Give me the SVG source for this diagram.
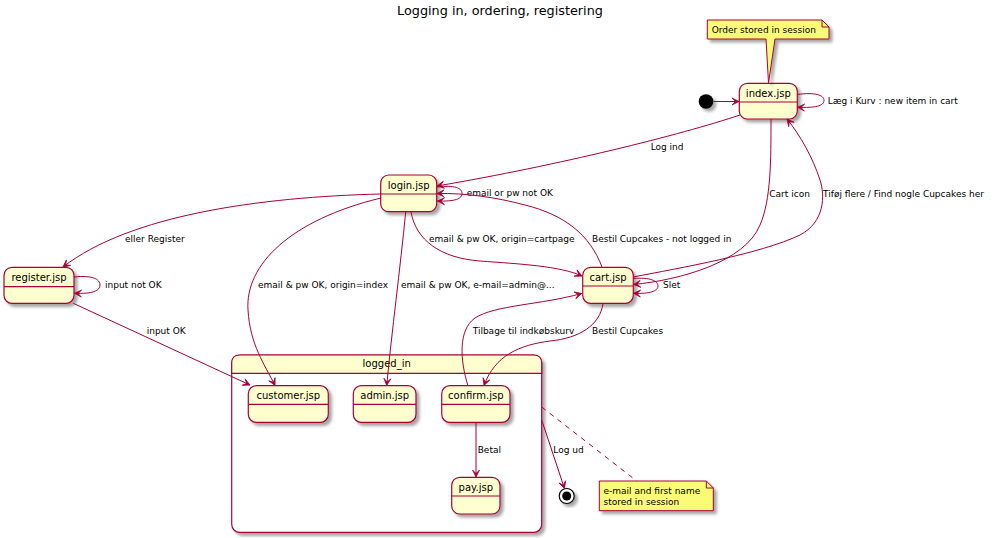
<svg xmlns="http://www.w3.org/2000/svg" width="993" height="538" viewBox="0 0 993 538">
<style>
  .st { fill: #FEFECE; stroke: #A80036; stroke-width: 1.2; filter: url(#sh); }
  .hl { stroke: #A80036; stroke-width: 1.2; fill: none; }
  .nm { font-family: "DejaVu Sans", sans-serif; font-size: 10px; fill: #000; text-anchor: middle; }
  .lb { font-family: "DejaVu Sans", sans-serif; font-size: 9px; fill: #000; }
  .ed { fill: none; stroke: #A80036; stroke-width: 1; marker-end: url(#ah); }
  .note { fill: #FBFB77; stroke: #A80036; stroke-width: 1; filter: url(#sh); }
  .fold { fill: none; stroke: #A80036; stroke-width: 1; }
  .title { font-family: "DejaVu Sans", sans-serif; font-size: 12.8px; fill: #000; text-anchor: middle; }
</style>
<defs>
  <filter id="sh" x="-20%" y="-20%" width="150%" height="150%">
    <feGaussianBlur in="SourceAlpha" stdDeviation="1.5"/>
    <feOffset dx="3" dy="3" result="b"/>
    <feFlood flood-color="#000" flood-opacity="0.35"/>
    <feComposite in2="b" operator="in" result="s"/>
    <feMerge><feMergeNode in="s"/><feMergeNode in="SourceGraphic"/></feMerge>
  </filter>
  <marker id="ah" viewBox="-8 -5 9 10" refX="0" refY="0" markerWidth="9" markerHeight="10" markerUnits="userSpaceOnUse" orient="auto">
    <path d="M0,0 L-7,-3.5 L-3.5,0 L-7,3.5 Z" fill="#A80036" stroke="#A80036" stroke-width="0.8" stroke-linejoin="miter"/>
  </marker>
</defs>
<rect width="993" height="538" fill="#fff"/>
<text class="title" x="500" y="14.5">Logging in, ordering, registering</text>

<g id="logged_in">
  <rect x="231.7" y="355" width="310" height="177.3" rx="8" ry="8" fill="#fff" stroke="#A80036" stroke-width="1.2" filter="url(#sh)"/>
  <path d="M231.7,373.3 L231.7,363 Q231.7,355 239.7,355 L533.7,355 Q541.7,355 541.7,363 L541.7,373.3 Z" fill="#FEFECE" stroke="#A80036" stroke-width="1.2"/>
  <text class="nm" x="386.7" y="367">logged_in</text>
</g>
<g id="customer">
  <rect class="st" x="248.3" y="385.7" width="80" height="36.6" rx="8" ry="8"/>
  <line class="hl" x1="248.3" y1="404.3" x2="328.3" y2="404.3"/>
  <text class="nm" x="288.3" y="399">customer.jsp</text>
</g>
<g id="admin">
  <rect class="st" x="353.3" y="385.7" width="62.7" height="36.6" rx="8" ry="8"/>
  <line class="hl" x1="353.3" y1="404.3" x2="416" y2="404.3"/>
  <text class="nm" x="384.7" y="399">admin.jsp</text>
</g>
<g id="confirm">
  <rect class="st" x="441.7" y="385.7" width="68.3" height="36.6" rx="8" ry="8"/>
  <line class="hl" x1="441.7" y1="404.3" x2="510" y2="404.3"/>
  <text class="nm" x="475.8" y="399">confirm.jsp</text>
</g>
<g id="pay">
  <rect class="st" x="451.7" y="477.3" width="48.3" height="36.7" rx="8" ry="8"/>
  <line class="hl" x1="451.7" y1="496" x2="500" y2="496"/>
  <text class="nm" x="475.8" y="491">pay.jsp</text>
</g>
<g id="index">
  <rect class="st" x="739.3" y="83.3" width="58" height="35.7" rx="8" ry="8"/>
  <line class="hl" x1="739.3" y1="102" x2="797.3" y2="102"/>
  <text class="nm" x="768.3" y="97">index.jsp</text>
</g>
<g id="login">
  <rect class="st" x="380.7" y="175" width="56" height="36.7" rx="8" ry="8"/>
  <line class="hl" x1="380.7" y1="194" x2="436.7" y2="194"/>
  <text class="nm" x="408.7" y="188.5">login.jsp</text>
</g>
<g id="register">
  <rect class="st" x="4" y="267.3" width="70" height="36" rx="8" ry="8"/>
  <line class="hl" x1="4" y1="286.7" x2="74" y2="286.7"/>
  <text class="nm" x="39" y="281">register.jsp</text>
</g>
<g id="cart">
  <rect class="st" x="582.7" y="267.3" width="50.6" height="36" rx="8" ry="8"/>
  <line class="hl" x1="582.7" y1="286" x2="633.3" y2="286"/>
  <text class="nm" x="608" y="281">cart.jsp</text>
</g>
<g id="initial">
  <circle cx="706" cy="101.5" r="7.3" fill="#000" filter="url(#sh)"/>
</g>
<g id="final">
  <circle cx="566.7" cy="496" r="7.5" fill="#fff" stroke="#000" stroke-width="1.2" filter="url(#sh)"/>
  <circle cx="566.7" cy="496" r="4.5" fill="#000"/>
</g>
<g id="note_order">
  <path class="note" d="M707.3,20 L822,20 L829,27 L829,39 L775,39 L768.5,83 L766,39 L707.3,39 Z"/>
  <path class="fold" d="M822,20 L822,27 L829,27"/>
  <text class="lb" x="711.7" y="33">Order stored in session</text>
</g>
<g id="note_email">
  <path class="note" d="M599.3,481 L706.3,481 L713.3,488 L713.3,510.7 L599.3,510.7 Z"/>
  <path class="fold" d="M706.3,481 L706.3,488 L713.3,488"/>
  <text class="lb" x="603.5" y="494">e-mail and first name</text>
  <text class="lb" x="603.5" y="504.7">stored in session</text>
</g>

<g id="connectors">
  <path class="ed" d="M713.5,101.5 L739,101.5"/>
  <path class="ed" d="M797.3,94.5 C815,92 824,95 824,100.5 C824,106 815,108 797.5,107.3"/>
  <text class="lb" x="827.7" y="104">Læg i Kurv : new item in cart</text>

  <path class="ed" d="M740,115 C680,135 560,165 437,186"/>
  <text class="lb" x="650.7" y="150">Log ind</text>

  <path class="ed" d="M437,187 C455,185 462,188 462,193.5 C462,199 455,201.5 437.5,201"/>
  <text class="lb" x="466.7" y="196">email or pw not OK</text>

  <path class="ed" d="M771,119 C771,160 771,200 760,225 C745,262 680,280 633.5,284.5"/>
  <text class="lb" x="769.3" y="196.7">Cart icon</text>

  <path class="ed" d="M633,277 C680,268 760,254 800,235 C825,222 825,195 820,180 C813,158 800,135 787,119"/>
  <text class="lb" x="823" y="196.7">Tiføj flere / Find nogle Cupcakes her</text>

  <path class="ed" d="M380.7,194 C260,197 130,215 63,267"/>
  <text class="lb" x="125" y="242">eller Register</text>

  <path class="ed" d="M411,212 C416,240 440,258 480,261 C520,264 560,266 582,276"/>
  <text class="lb" x="429" y="242">email &amp; pw OK, origin=cartpage</text>

  <path class="ed" d="M602,267 C590,235 565,215 525,205 C495,197 465,193 437,193.5"/>
  <text class="lb" x="592" y="242">Bestil Cupcakes - not logged in</text>

  <path class="ed" d="M74,277 C92,275 100,279 100,285 C100,291 92,294 74.5,293.3"/>
  <text class="lb" x="105" y="288">input not OK</text>

  <path class="ed" d="M381,198 C290,220 245,265 248,310 C250,345 265,365 275,385.5"/>
  <text class="lb" x="258" y="288">email &amp; pw OK, origin=index</text>

  <path class="ed" d="M405.7,212 C400,270 392,330 386.7,385.5"/>
  <text class="lb" x="401" y="288">email &amp; pw OK, e-mail=admin@...</text>

  <path class="ed" d="M633.3,278.5 C650,277 658,281 658,286 C658,291 650,294 633.5,293.3"/>
  <text class="lb" x="663" y="288">Slet</text>

  <path class="ed" d="M73.3,303.3 L250,385"/>
  <text class="lb" x="146.7" y="334">input OK</text>

  <path class="ed" d="M468,386 C460,360 458,330 475,318 C495,305 540,305 581.7,293.5"/>
  <text class="lb" x="472.7" y="334">Tilbage til indkøbskurv</text>

  <path class="ed" d="M603,303.5 C600,325 580,338 550,341 C520,345 495,355 484,385.5"/>
  <text class="lb" x="592" y="334">Bestil Cupcakes</text>

  <path class="ed" d="M476,422.5 L476,477"/>
  <text class="lb" x="477.7" y="452.7">Betal</text>

  <path class="ed" d="M541.7,420 L564.5,488.5"/>
  <text class="lb" x="553.3" y="452.7">Log ud</text>

  <path d="M541.7,407 L636.7,481" fill="none" stroke="#A80036" stroke-width="1" stroke-dasharray="5,5"/>
</g>
</svg>
